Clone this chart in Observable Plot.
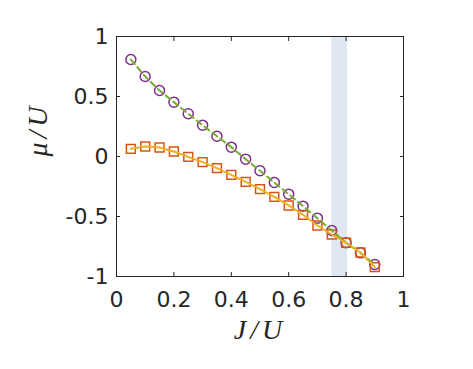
<!DOCTYPE html>
<html><head><meta charset="utf-8">
<script src="https://cdn.jsdelivr.net/npm/d3@7"></script>
<script src="https://cdn.jsdelivr.net/npm/@observablehq/plot@0.6"></script>
<style>body{margin:0;background:#fff}</style>
</head><body><div id="chart"></div>
<script>
const J = [0.05,0.10,0.15,0.20,0.25,0.30,0.35,0.40,0.45,0.50,0.55,0.60,0.65,0.70,0.75,0.80,0.85,0.90];
const muCircle = [0.808,0.667,0.55,0.453,0.356,0.261,0.169,0.078,-0.022,-0.119,-0.217,-0.314,-0.414,-0.514,-0.617,-0.719,-0.803,-0.9];
const muSquare = [0.064,0.083,0.075,0.042,-0.003,-0.047,-0.097,-0.153,-0.211,-0.272,-0.336,-0.408,-0.486,-0.575,-0.65,-0.719,-0.8,-0.922];
const bandX1 = [0.75];
const bandX2 = [0.805];
const xTicks = [0,0.2,0.4,0.6,0.8,1];
const xTickLabels = ["0","0.2","0.4","0.6","0.8","1"];
const yTicks = [-1,-0.5,0,0.5,1];
const yTickLabels = ["-1","-0.5","0","0.5","1"];
const xLabel = "J/U";
const yLabel = "μ/U";

const circles = J.map((x,i)=>({x, y: muCircle[i]}));
const squares = J.map((x,i)=>({x, y: muSquare[i]}));
const band = bandX1.map((x1,i)=>({x1, x2: bandX2[i]}));

const ink = "#262626";
const plot = Plot.plot({
  width: 473, height: 369,
  marginLeft: 116, marginRight: 70, marginTop: 36, marginBottom: 93,
  x: {domain: [0,1]},
  y: {domain: [-1,1]},
  style: {fontFamily: "DejaVu Sans", fontSize: "22px", color: ink, background: "#fff"},
  marks: [
    Plot.rect(band, {x1: "x1", x2: "x2", fill: "#dfe7f2"}),
    Plot.axisX(xTicks, {anchor: "bottom", tickSize: 0, tickPadding: 15, fontSize: 22, label: null,
      tickFormat: d => xTickLabels[xTicks.indexOf(d)]}),
    Plot.axisY(yTicks, {anchor: "left", tickSize: 0, tickPadding: 8, fontSize: 22, label: null,
      tickFormat: d => yTickLabels[yTicks.indexOf(d)]}),
    Plot.axisX(xTicks, {anchor: "bottom", tickSize: -4, tickFormat: () => "", label: null}),
    Plot.axisX(xTicks, {anchor: "top", tickSize: -4, tickFormat: () => "", label: null}),
    Plot.axisY(yTicks, {anchor: "left", tickSize: -4, tickFormat: () => "", label: null}),
    Plot.axisY(yTicks, {anchor: "right", tickSize: -4, tickFormat: () => "", label: null}),
    Plot.dot(circles, {x: "x", y: "y", r: 5, stroke: "#7E2F8E", strokeWidth: 1.5, fill: "none"}),
    Plot.dot(squares, {x: "x", y: "y", r: 5, symbol: "square", stroke: "#D95319", strokeWidth: 1.5, fill: "none"}),
    Plot.line(circles, {x: "x", y: "y", stroke: "#77AC30", strokeWidth: 2, strokeDasharray: "6,4"}),
    Plot.line(squares, {x: "x", y: "y", stroke: "#EDB120", strokeWidth: 2}),
    Plot.frame({stroke: ink, strokeWidth: 1}),
    Plot.text([xLabel], {text: d => d, frameAnchor: "bottom", dy: 62, fontFamily: "Liberation Serif", fontStyle: "italic", fontSize: 28, fill: ink}),
    Plot.text([yLabel], {text: d => d, frameAnchor: "left", dx: -78, rotate: -90, fontFamily: "Liberation Serif", fontStyle: "italic", fontSize: 28, fill: ink})
  ]
});
d3.select(plot).selectAll("text").filter(function(){ const t = this.textContent; return t === xLabel || t === yLabel; })
  .style("letter-spacing", "4px");
document.getElementById("chart").append(plot);
</script>
</body></html>
